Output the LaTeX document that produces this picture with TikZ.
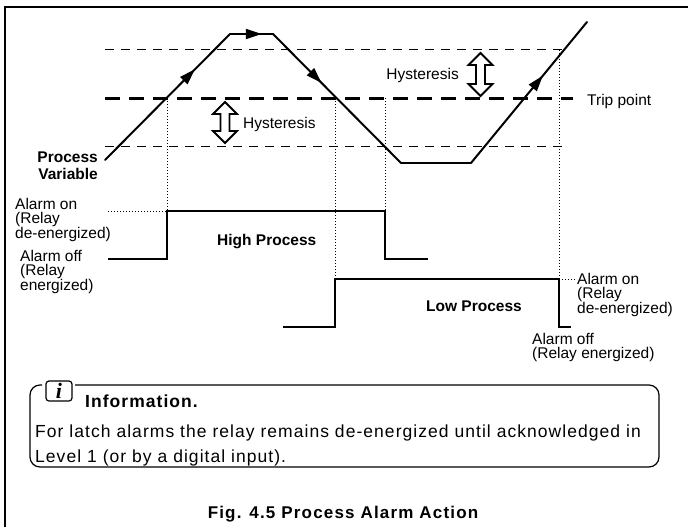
\documentclass[tikz,border=0pt]{standalone}
\usepackage{fontspec}
\setmainfont{Liberation Sans}
\newfontfamily\infofont{Liberation Sans}[LetterSpace=6]
\newfontfamily\figcapfont{Liberation Sans}[LetterSpace=7]
\newfontfamily\iconfont{Liberation Serif}
\usetikzlibrary{arrows.meta, decorations.markings}

% Flecha doble de histéresis: x, y arriba, y abajo
\newcommand{\hystarrow}[3]{%
    \draw[hystshape] (#1,#2) -- (#1+12,#2+12) -- (#1+4.5,#2+12) -- (#1+4.5,#3-12)
        -- (#1+12,#3-12) -- (#1,#3) -- (#1-12,#3-12) -- (#1-4.5,#3-12)
        -- (#1-4.5,#2+12) -- (#1-12,#2+12) -- cycle;}

\begin{document}
\begin{tikzpicture}[
        x=1pt, y=-1pt,
        % Estilos para líneas
        pvline/.style={
                line width=2pt,
                line cap=round,
                line join=round
            },
        midarrow/.style={
                postaction={decorate},
                decoration={markings,
                        mark=at position #1 with {\arrow{Triangle[length=16pt,width=10pt]}}}
            },
        hystline/.style={
                line width=1pt,
                dash pattern=on 9pt off 7pt
            },
        tripline/.style={
                line width=3pt,
                dash pattern=on 15pt off 9pt
            },
        guide/.style={
                line width=1pt,
                dash pattern=on 1pt off 2pt
            },
        signal/.style={
                line width=2.5pt,
                line join=miter
            },
        hystshape/.style={
                line width=1.8pt,
                fill=white,
                line join=miter
            },
        % Estilos para textos
        plaintext/.style={
                inner sep=0pt,
                align=left,
                font=\fontsize{15.5}{14.5}\selectfont
            },
        boldtext/.style={
                inner sep=0pt,
                font=\fontsize{15.5}{17}\selectfont\bfseries
            },
        infotext/.style={
                inner sep=0pt,
                font=\fontsize{17.5}{25}\selectfont\infofont
            },
        iconbox/.style={
                draw,
                line width=1.2pt,
                rounded corners=3pt,
                minimum width=26pt,
                minimum height=20pt,
                inner sep=0pt,
                font=\fontsize{22}{22}\selectfont\iconfont\bfseries\itshape
            },
        infoframe/.style={
                line width=1.2pt,
                rounded corners=10pt
            }
    ]
    \useasboundingbox (0,0) rectangle (688,527);

    % Marco
    \coordinate (fr-bl) at (5,527);
    \coordinate (fr-tl) at (5,7);
    \coordinate (fr-tr) at (688,7);
    \draw[line width=1.5pt] (fr-bl) -- (fr-tl) -- (fr-tr);

    % Histéresis y punto de disparo
    \coordinate (hu-w) at (105,50);
    \coordinate (hu-e) at (565,50);
    \coordinate (tp-w) at (105,98);
    \coordinate (tp-e) at (573,98);
    \coordinate (hl-w) at (105,146);
    \coordinate (hl-e) at (563,146);
    \draw[hystline] (hu-w) -- (hu-e);
    \draw[tripline] (tp-w) -- (tp-e);
    \draw[hystline] (hl-w) -- (hl-e);

    % Variable de proceso
    \coordinate (pv0) at (105,160);
    \coordinate (pv1) at (230,34);
    \coordinate (pv2) at (273,34);
    \coordinate (pv3) at (401,163);
    \coordinate (pv4) at (471,163);
    \coordinate (pv5) at (587,22);
    \draw[pvline, midarrow=0.72] (pv0) -- (pv1);
    \draw[pvline, midarrow=0.74] (pv1) -- (pv2);
    \draw[pvline, midarrow=0.38] (pv2) -- (pv3);
    \draw[pvline] (pv3) -- (pv4);
    \draw[pvline, midarrow=0.62] (pv4) -- (pv5);

    % Alarma de proceso alto
    \coordinate (hp0) at (108,259);
    \coordinate (hp1) at (167,259);
    \coordinate (hp2) at (167,211);
    \coordinate (hp3) at (385,211);
    \coordinate (hp4) at (385,259);
    \coordinate (hp5) at (428,259);
    \draw[signal] (hp0) -- (hp1) -- (hp2) -- (hp3) -- (hp4) -- (hp5);

    % Alarma de proceso bajo
    \coordinate (lp0) at (283,327);
    \coordinate (lp1) at (335,327);
    \coordinate (lp2) at (335,279);
    \coordinate (lp3) at (559,279);
    \coordinate (lp4) at (559,327);
    \coordinate (lp5) at (571,327);
    \draw[signal] (lp0) -- (lp1) -- (lp2) -- (lp3) -- (lp4) -- (lp5);

    % Líneas guía
    \coordinate (gx1) at (167,98);
    \coordinate (gx2) at (335,98);
    \coordinate (gx3) at (385,98);
    \coordinate (gx4) at (559,50);
    \coordinate (gon-w) at (108,211);
    \coordinate (gon-e) at (575,279);
    \draw[guide] (gx1) -- (hp2);
    \draw[guide] (gx2) -- (lp2);
    \draw[guide] (gx3) -- (hp3);
    \draw[guide] (gx4) -- (lp3);
    \draw[guide] (gon-w) -- (hp2);
    \draw[guide] (lp3) -- (gon-e);

    % Flechas de histéresis
    \hystarrow{225}{102}{143}
    \hystarrow{480.5}{53}{96}

    % Textos
    \node[plaintext, anchor=base west] (hyst1) at (243,128) {Hysteresis};
    \node[plaintext, anchor=base east] (hyst2) at (459,80) {Hysteresis};
    \node[plaintext, anchor=base west] (trip) at (587,105) {Trip point};
    \node[boldtext, anchor=north east, align=right] (pvar) at (98,151.7) {Process\\Variable};
    \node[plaintext, anchor=north west] (hon) at (15,197.7) {Alarm on\\(Relay\\de-energized)};
    \node[plaintext, anchor=north west] (hoff) at (20,249.7) {Alarm off\\(Relay\\energized)};
    \node[boldtext, anchor=base west] (high) at (217,245) {High Process};
    \node[boldtext, anchor=base west] (low) at (426,311) {Low Process};
    \node[plaintext, anchor=north west] (lon) at (577,272.7) {Alarm on\\(Relay\\de-energized)};
    \node[plaintext, anchor=north west] (loff) at (532,332.7) {Alarm off\\(Relay energized)};

    % Información
    \node[iconbox] (icon) at (59,391) {i};
    \coordinate (ib-nw) at (30,385);
    \coordinate (ib-sw) at (30,467);
    \coordinate (ib-se) at (659,467);
    \coordinate (ib-ne) at (659,385);
    \coordinate (gap-w) at (42,385);
    \coordinate (gap-e) at (75,385);
    \draw[infoframe] (gap-w) -- (ib-nw) -- (ib-sw) -- (ib-se) -- (ib-ne) -- (gap-e);
    \node[infotext, anchor=base west] (infotitle) at (85,407) {\bfseries Information.};
    \node[infotext, anchor=base west] (infoline1) at (35,437) {For latch alarms the relay remains de-energized until acknowledged in};
    \node[infotext, anchor=base west] (infoline2) at (35,462) {Level 1 (or by a digital input).};

    % Pie de figura
    \node[inner sep=0pt, anchor=base, font=\fontsize{17}{17}\selectfont\figcapfont\bfseries] (figcap) at (343,518) {Fig. 4.5 Process Alarm Action};

\end{tikzpicture}
\end{document}
